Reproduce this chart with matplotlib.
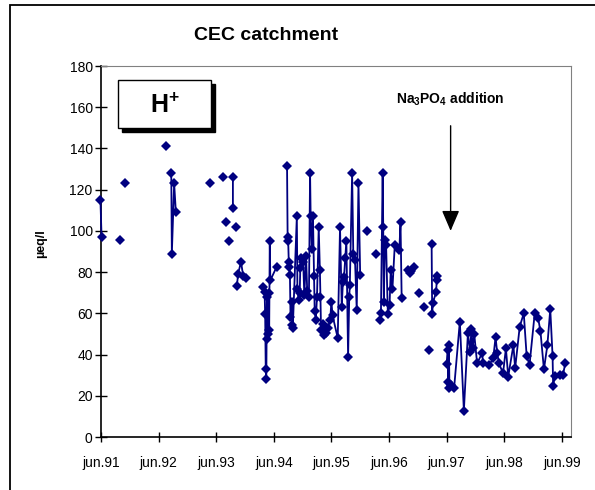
import numpy as np
import matplotlib.pyplot as plt
from matplotlib.patches import Rectangle

plt.rcParams['font.family'] = ['Liberation Sans', 'DejaVu Sans']
plt.rcParams['mathtext.fontset'] = 'custom'
plt.rcParams['mathtext.rm'] = 'Liberation Sans'
plt.rcParams['mathtext.bf'] = 'Liberation Sans:bold'

NA = np.nan

# sampling dates (decimal year) and H+ concentration (ueq/l); NaN breaks the line
dates = [
    1991.41, 1991.43, NA,
    1991.75, NA,
    1991.84, NA,
    1992.55, NA,
    1992.64, 1992.65, 1992.69, 1992.72, NA,
    1993.31, NA,
    1993.54, NA,
    1993.59, NA,
    1993.64, NA,
    1993.71, 1993.71, NA,
    1993.76, NA,
    1993.78, 1993.80, 1993.85, 1993.89, 1993.94, NA,
    1994.23, 1994.26, 1994.27, 1994.28, 1994.29, 1994.30, 1994.31, 1994.32,
    1994.33, 1994.34, 1994.35, 1994.36, 1994.47, NA,
    1994.65, 1994.66, 1994.67, 1994.68, 1994.69, 1994.70, 1994.71, 1994.73,
    1994.74, 1994.75, 1994.82, 1994.83, 1994.85, 1994.87, 1994.88, 1994.90,
    1994.93, 1994.95, 1994.98, 1995.00, 1995.03, 1995.05, 1995.06, 1995.08,
    1995.10, 1995.12, 1995.13, 1995.15, 1995.17, 1995.20, 1995.22, 1995.23,
    1995.24, 1995.27, 1995.29, 1995.31, 1995.33, 1995.36, 1995.40, 1995.42,
    1995.44, 1995.53, 1995.57, 1995.60, 1995.62, 1995.64, 1995.66, 1995.68,
    1995.71, 1995.73, 1995.74, 1995.78, 1995.80, 1995.83, 1995.86, 1995.89,
    1995.92, NA,
    1996.04, NA,
    1996.19, NA,
    1996.26, 1996.28, 1996.31, 1996.32, 1996.33, 1996.35, 1996.37, 1996.40,
    1996.43, 1996.45, 1996.48, 1996.52, 1996.60, 1996.62, 1996.64, NA,
    1996.75, 1996.78, 1996.81, 1996.85, NA,
    1996.94, NA,
    1997.03, NA,
    1997.11, NA,
    1997.16, 1997.17, 1997.18, 1997.24, 1997.25, 1997.26, NA,
    1997.42, 1997.44, 1997.45, 1997.46, 1997.47, 1997.50, 1997.55, 1997.65,
    1997.72, 1997.79, 1997.83, 1997.85, 1997.87, 1997.90, 1997.95, 1998.04,
    1998.05, 1998.16, 1998.23, 1998.27, 1998.30, 1998.33, 1998.40, 1998.45,
    1998.49, 1998.58, 1998.61, 1998.69, 1998.76, 1998.81, 1998.86, 1998.95,
    1999.01, 1999.05, 1999.11, 1999.17, 1999.22, 1999.26, 1999.27, 1999.30,
    1999.39, 1999.44, 1999.48,
]
h_plus = [
    115, 97, NA,
    95.5, NA,
    123, NA,
    141, NA,
    128, 89, 123, 109, NA,
    123, NA,
    126, NA,
    104.5, NA,
    95, NA,
    126, 111, NA,
    102, NA,
    73.5, 79, 85, 78, 77, NA,
    73, 70.5, 59.7, 33, 28, 68, 47.4, 50,
    70, 52, 95, 76, 82.6, NA,
    131.6, 97, 95, 85, 82.6, 78.6, 58.4, 65.7,
    54.3, 52.7, 107, 72, 66.5, 70, 82, 86.8,
    85, 69, 88, 71, 68, 128, 107, 91,
    107, 78, 61, 57, 68, 101.7, 81, 68,
    52, 55, 49.5, 52, 50.3, 53, 57, 65.7,
    59, 48, 101.7, 63, 75.4, 77.8, 86.7, 95.2,
    39, 68, 73.7, 128, 89, 85.9, 61.6, 123,
    78.6, NA,
    100, NA,
    88.8, NA,
    56.8, 60, 128, 101.7, 65.7, 95.6, 93, 59.7,
    64, 81, 72, 93, 90.7, 104.5, 67.3, NA,
    81, 79.4, 80.7, 82.6, NA,
    70, NA,
    63, NA,
    42.2, NA,
    93.5, 59.7, 65, 70.4, 78, 76, NA,
    35.4, 42.2, 26.8, 44.6, 23.6, 25.2, 23.6, 56,
    12.8, 50.3, 41.4, 52.3, 43, 50, 35.7, 40.9,
    35.7, 35, 38.2, 48.4, 40.6, 35.7, 30.9, 43,
    29.3, 44.6, 33.3, 53.6, 60, 39.3, 35, 60,
    57.6, 51.2, 32.8, 44.6, 62, 39.3, 24.7, 29.6,
    30, 30, 35.7,
]

tick_years = [1991.42 + i for i in range(9)]
tick_labels = ['jun.91', 'jun.92', 'jun.93', 'jun.94', 'jun.95',
               'jun.96', 'jun.97', 'jun.98', 'jun.99']
addition_date = 1997.49


def main():
    fig = plt.figure(figsize=(5.95, 4.9), dpi=100)
    ax = fig.add_axes([101 / 595, 53 / 490, 470 / 595, 371 / 490])

    ax.plot(dates, h_plus, color='#000080', lw=1.3, marker='D', ms=5,
            markeredgewidth=0, zorder=3, clip_on=False)

    ax.set_xlim(1991.42, 1999.58)
    ax.set_ylim(0, 180)
    ax.set_yticks(range(0, 181, 20))
    ax.set_xticks(tick_years)
    ax.set_xticklabels(tick_labels)
    ax.tick_params(axis='y', direction='inout', length=8, width=1,
                   labelsize=10, pad=2)
    ax.tick_params(axis='x', direction='inout', length=7, width=1,
                   labelsize=10, pad=10)
    for side in ('top', 'right'):
        ax.spines[side].set_color('#808080')
    for side in ('left', 'bottom'):
        ax.spines[side].set_linewidth(1.2)

    ax.set_ylabel('µeq/l', fontsize=9, fontweight='bold')
    ax.yaxis.set_label_coords(-54 / 470, 0.52)

    fig.text(266 / 595, 1 - 35 / 490, 'CEC catchment', ha='center', va='center',
             fontsize=14, fontweight='bold')

    # H+ label box with drop shadow
    bx, by, bw, bh = 118 / 595, 1 - 128 / 490, 93 / 595, 48 / 490
    fig.patches.append(Rectangle((bx + 4 / 595, by - 4 / 490), bw, bh,
                                 transform=fig.transFigure, color='black',
                                 zorder=5))
    fig.patches.append(Rectangle((bx, by), bw, bh, transform=fig.transFigure,
                                 facecolor='white', edgecolor='black', lw=1,
                                 zorder=6))
    fig.text(bx + bw / 2, by + bh / 2 - 2 / 490, r'H$^\mathbf{+}$',
             ha='center', va='center', fontsize=18, fontweight='bold',
             zorder=7)

    # arrow marking the phosphate addition
    ax.annotate('', xy=(addition_date, 100), xytext=(addition_date, 151),
                arrowprops=dict(arrowstyle='-|>,head_length=0.7,head_width=0.3',
                                color='black', lw=1, mutation_scale=18,
                                shrinkA=0, shrinkB=0))
    ax.text(addition_date, 164, r'$\mathbf{Na_3PO_4}$ addition', fontsize=10,
            fontweight='bold', ha='center', va='center')

    # outer chart frame
    fig.patches.append(Rectangle((10 / 595, -0.1), 1.2, 1.1 - 5 / 490,
                                 transform=fig.transFigure, fill=False,
                                 edgecolor='black', lw=1.3))

    fig.savefig('out.png', dpi=100)


if __name__ == '__main__':
    main()
